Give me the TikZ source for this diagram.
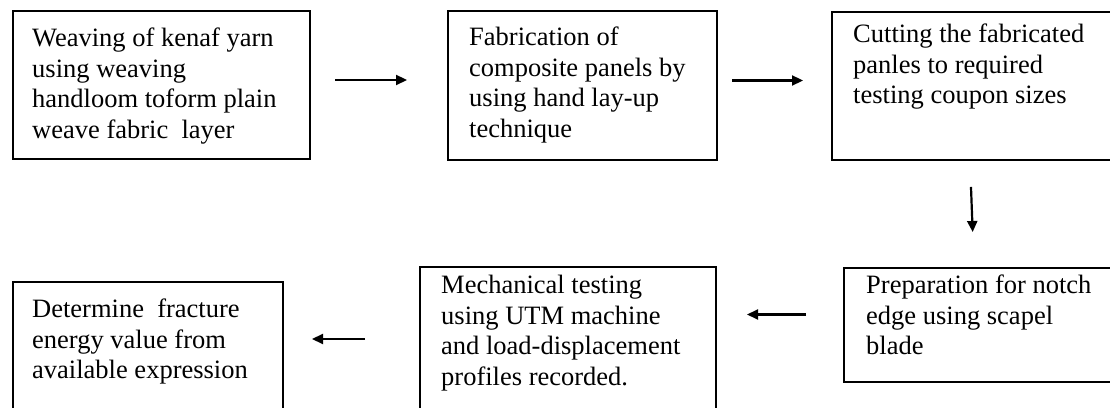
\documentclass[tikz,border=0pt]{standalone}
\usepackage{fontspec}
\setmainfont{Liberation Serif}
\usetikzlibrary{arrows.meta,positioning}

\begin{document}
\begin{tikzpicture}[x=1pt,y=1pt,
      box/.style={draw,line width=2pt,anchor=north west,inner sep=0pt},
      txt/.style={anchor=north west,inner sep=0pt,align=left,font=\fontsize{26.5}{30.5}\selectfont},
      arr/.style={-{Triangle[length=11pt,width=10pt]},line width=2.2pt}]
    \useasboundingbox (0,0) rectangle (1110,407);
    \clip (0,0) rectangle (1110,407);
    \node[box,minimum width=297pt,minimum height=148pt] (a) at (12,397)  {};
    \node[box,minimum width=269pt,minimum height=149pt] (b) at (447,397) {};
    \node[box,minimum width=284pt,minimum height=148pt] (c) at (831,396) {};
    \node[box,minimum width=272pt,minimum height=114pt] (d) at (843,140) {};
    \node[box,minimum width=296pt,minimum height=150pt] (e) at (419,141) {};
    \node[box,minimum width=270pt,minimum height=140pt] (f) at (12,126)  {};
    \node[txt] (ta) at ([shift={(20pt,-18pt)}]a.north west) {Weaving of kenaf yarn\\using weaving\\handloom toform plain\\weave fabric\ \ layer};
    \node[txt] (tb) at ([shift={(22pt,-17pt)}]b.north west) {Fabrication of\\composite panels by\\using hand lay-up\\technique};
    \node[txt] (tc) at ([shift={(22pt,-13pt)}]c.north west) {Cutting the fabricated\\panles to required\\testing coupon sizes};
    \node[txt] (td) at ([shift={(23pt,-8pt)}]d.north west)  {Preparation for notch\\edge using scapel\\blade};
    \node[txt] (te) at ([shift={(22pt,-9pt)}]e.north west)  {Mechanical testing\\using UTM machine\\and load-displacement\\profiles recorded.};
    \node[txt] (tf) at ([shift={(20pt,-18pt)}]f.north west) {Determine\ \ fracture\\energy value from\\available expression};
    \draw[arr,shorten <=24pt,shorten >=40pt] ([yshift=5pt]a.east) -- ([yshift=5pt]a.east -| b.west);
    \draw[arr,shorten <=14pt,shorten >=28pt] ([yshift=5pt]b.east) -- ([yshift=5pt]b.east -| c.west);
    \draw[arr,shorten <=26pt,shorten >=35pt] ([xshift=-4pt]c.south) -- ([xshift=-6pt]d.north);
    \draw[arr,shorten <=37pt,shorten >=30pt] ([yshift=10.5pt]d.west) -- ([yshift=10.5pt]d.west -| e.east);
    \draw[arr,shorten <=54pt,shorten >=28pt] ([yshift=3pt]e.west) -- ([yshift=3pt]e.west -| f.east);
  \end{tikzpicture}
\end{document}
